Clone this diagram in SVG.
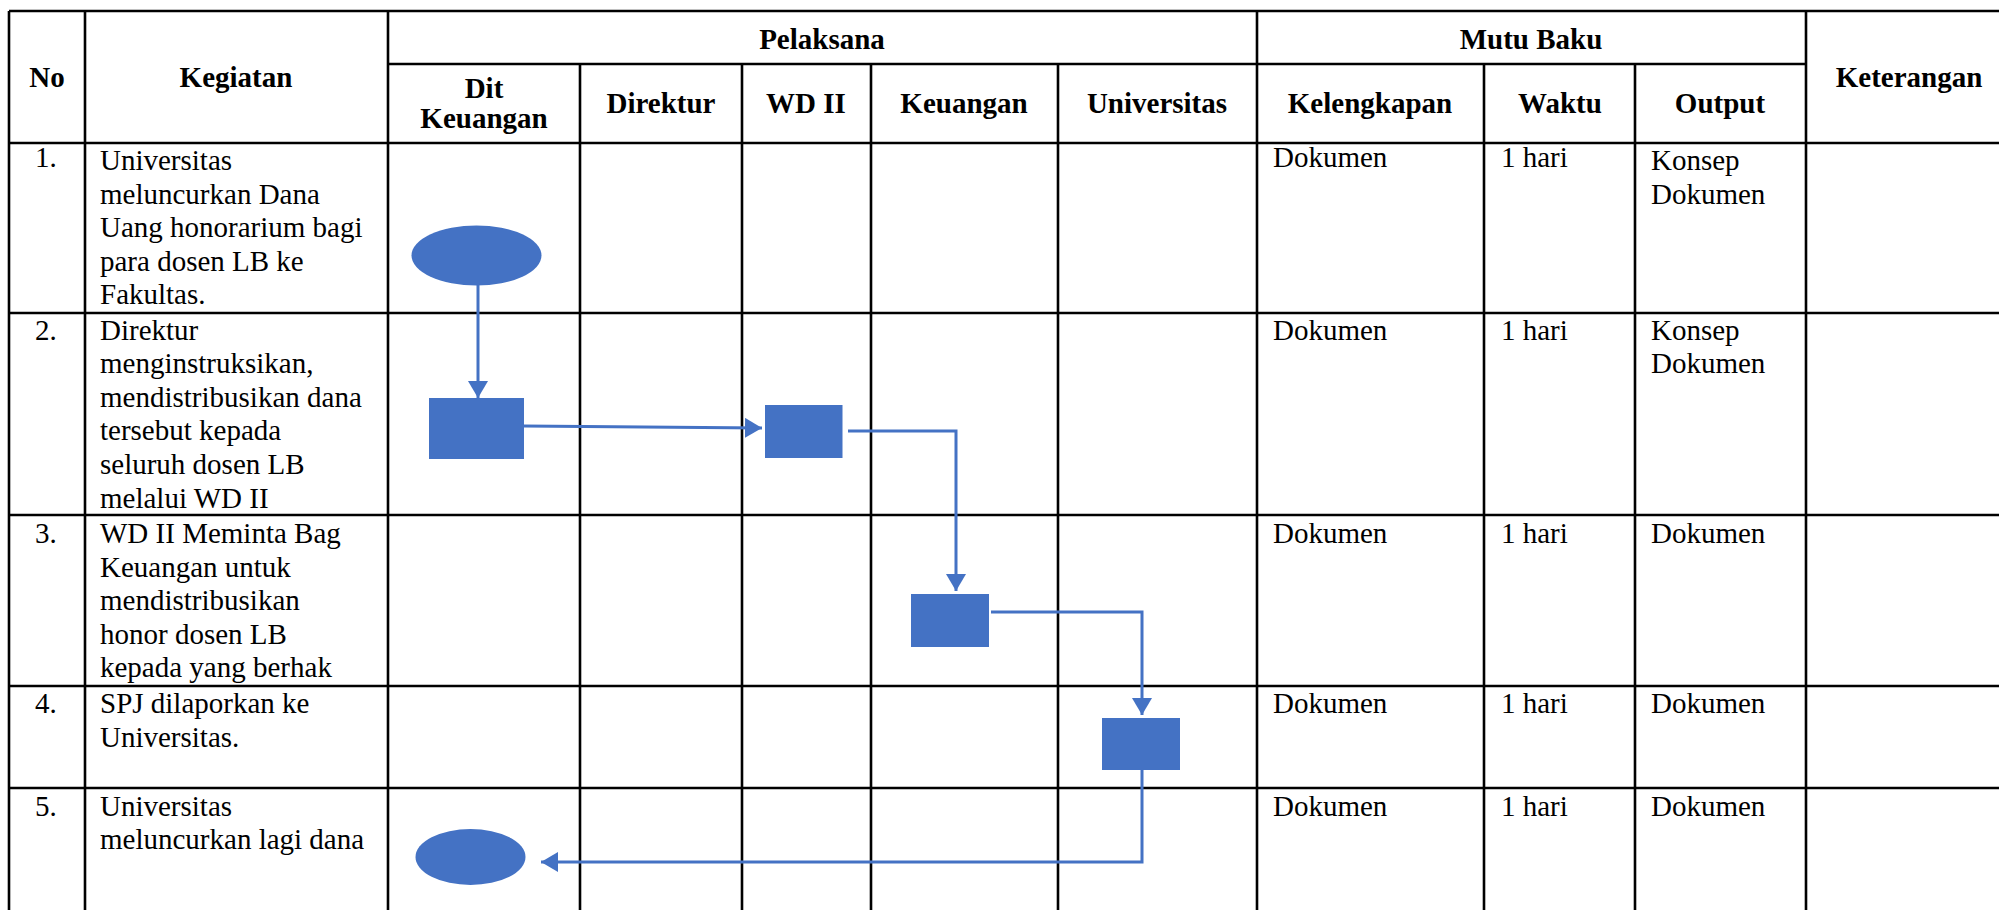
<svg xmlns="http://www.w3.org/2000/svg" width="1999" height="910" viewBox="0 0 1999 910">
  <style>
    .grid { stroke: #000; stroke-width: 2.6; fill: none; }
    .hd { font-family: "Liberation Serif", "Times New Roman", serif; font-size: 29px; font-weight: bold; fill: #000; text-anchor: middle; }
    .tx { font-family: "Liberation Serif", "Times New Roman", serif; font-size: 29px; fill: #000; }
    .shape { fill: #4472C4; }
    .flow { stroke: #4472C4; stroke-width: 3; fill: none; }
  </style>
  <defs>
    <marker id="arrow" viewBox="0 0 17 20" refX="17" refY="10" markerWidth="17" markerHeight="20" markerUnits="userSpaceOnUse" orient="auto">
      <path d="M0,0 L17,10 L0,20 z" fill="#4472C4"/>
    </marker>
  </defs>

  <rect width="1999" height="910" fill="#fff"/>

  <!-- table grid -->
  <g id="grid" class="grid">
    <!-- horizontal rules -->
    <line x1="9" y1="11" x2="1999" y2="11"/>
    <line x1="388" y1="64" x2="1806" y2="64"/>
    <line x1="9" y1="143" x2="1999" y2="143"/>
    <line x1="9" y1="313" x2="1999" y2="313"/>
    <line x1="9" y1="515" x2="1999" y2="515"/>
    <line x1="9" y1="686" x2="1999" y2="686"/>
    <line x1="9" y1="788" x2="1999" y2="788"/>
    <!-- full-height columns -->
    <line x1="9" y1="11" x2="9" y2="910"/>
    <line x1="85" y1="11" x2="85" y2="910"/>
    <line x1="388" y1="11" x2="388" y2="910"/>
    <line x1="1257" y1="11" x2="1257" y2="910"/>
    <line x1="1806" y1="11" x2="1806" y2="910"/>
    <!-- sub-columns under Pelaksana and Mutu Baku -->
    <line x1="580" y1="64" x2="580" y2="910"/>
    <line x1="742" y1="64" x2="742" y2="910"/>
    <line x1="871" y1="64" x2="871" y2="910"/>
    <line x1="1058" y1="64" x2="1058" y2="910"/>
    <line x1="1484" y1="64" x2="1484" y2="910"/>
    <line x1="1635" y1="64" x2="1635" y2="910"/>
  </g>

  <!-- header labels -->
  <g id="header">
    <text class="hd" x="47" y="87">No</text>
    <text class="hd" x="236" y="87">Kegiatan</text>
    <text class="hd" x="822" y="49">Pelaksana</text>
    <text class="hd" x="1531" y="49">Mutu Baku</text>
    <text class="hd" x="1909" y="87">Keterangan</text>
    <text class="hd" x="484" y="98">Dit</text>
    <text class="hd" x="484" y="128">Keuangan</text>
    <text class="hd" x="661" y="113">Direktur</text>
    <text class="hd" x="806" y="113">WD II</text>
    <text class="hd" x="964" y="113">Keuangan</text>
    <text class="hd" x="1157" y="113">Universitas</text>
    <text class="hd" x="1370" y="113">Kelengkapan</text>
    <text class="hd" x="1560" y="113">Waktu</text>
    <text class="hd" x="1720" y="113">Output</text>
  </g>

  <!-- row 1 -->
  <g id="row1">
    <text class="tx" x="35" y="167">1.</text>
    <text class="tx" x="100" y="170">Universitas</text>
    <text class="tx" x="100" y="203.6">meluncurkan Dana</text>
    <text class="tx" x="100" y="237.2">Uang honorarium bagi</text>
    <text class="tx" x="100" y="270.8">para dosen LB ke</text>
    <text class="tx" x="100" y="304.4">Fakultas.</text>
    <text class="tx" x="1273" y="167">Dokumen</text>
    <text class="tx" x="1501" y="167">1 hari</text>
    <text class="tx" x="1651" y="170">Konsep</text>
    <text class="tx" x="1651" y="203.6">Dokumen</text>
  </g>

  <!-- row 2 -->
  <g id="row2">
    <text class="tx" x="35" y="339.5">2.</text>
    <text class="tx" x="100" y="339.5">Direktur</text>
    <text class="tx" x="100" y="373.1">menginstruksikan,</text>
    <text class="tx" x="100" y="406.7">mendistribusikan dana</text>
    <text class="tx" x="100" y="440.3">tersebut kepada</text>
    <text class="tx" x="100" y="473.9">seluruh dosen LB</text>
    <text class="tx" x="100" y="507.5">melalui WD II</text>
    <text class="tx" x="1273" y="339.5">Dokumen</text>
    <text class="tx" x="1501" y="339.5">1 hari</text>
    <text class="tx" x="1651" y="339.5">Konsep</text>
    <text class="tx" x="1651" y="373.1">Dokumen</text>
  </g>

  <!-- row 3 -->
  <g id="row3">
    <text class="tx" x="35" y="543">3.</text>
    <text class="tx" x="100" y="543">WD II Meminta Bag</text>
    <text class="tx" x="100" y="576.6">Keuangan untuk</text>
    <text class="tx" x="100" y="610.2">mendistribusikan</text>
    <text class="tx" x="100" y="643.8">honor dosen LB</text>
    <text class="tx" x="100" y="677.4">kepada yang berhak</text>
    <text class="tx" x="1273" y="543">Dokumen</text>
    <text class="tx" x="1501" y="543">1 hari</text>
    <text class="tx" x="1651" y="543">Dokumen</text>
  </g>

  <!-- row 4 -->
  <g id="row4">
    <text class="tx" x="35" y="713">4.</text>
    <text class="tx" x="100" y="713">SPJ dilaporkan ke</text>
    <text class="tx" x="100" y="746.6">Universitas.</text>
    <text class="tx" x="1273" y="713">Dokumen</text>
    <text class="tx" x="1501" y="713">1 hari</text>
    <text class="tx" x="1651" y="713">Dokumen</text>
  </g>

  <!-- row 5 -->
  <g id="row5">
    <text class="tx" x="35" y="815.5">5.</text>
    <text class="tx" x="100" y="815.5">Universitas</text>
    <text class="tx" x="100" y="849">meluncurkan lagi dana</text>
    <text class="tx" x="1273" y="815.5">Dokumen</text>
    <text class="tx" x="1501" y="815.5">1 hari</text>
    <text class="tx" x="1651" y="815.5">Dokumen</text>
  </g>

  <!-- flow connectors -->
  <g id="connectors" class="flow">
    <path d="M478,285 L478,398" marker-end="url(#arrow)"/>
    <path d="M524,426 L762,428" marker-end="url(#arrow)"/>
    <path d="M848,431 L956,431 L956,591" marker-end="url(#arrow)"/>
    <path d="M991,612 L1142,612 L1142,715" marker-end="url(#arrow)"/>
    <path d="M1142,770 L1142,862 L541,862" marker-end="url(#arrow)"/>
  </g>

  <!-- flow nodes -->
  <g id="start">
    <ellipse class="shape" cx="476.5" cy="255.5" rx="65" ry="30"/>
  </g>
  <g id="step-direktur">
    <rect class="shape" x="429" y="398" width="95" height="61"/>
  </g>
  <g id="step-wd2">
    <rect class="shape" x="765" y="405" width="77.5" height="53"/>
  </g>
  <g id="step-keuangan">
    <rect class="shape" x="911" y="594" width="78" height="53"/>
  </g>
  <g id="step-universitas">
    <rect class="shape" x="1102" y="718" width="78" height="52"/>
  </g>
  <g id="end">
    <ellipse class="shape" cx="470.5" cy="857" rx="55" ry="28"/>
  </g>
</svg>
